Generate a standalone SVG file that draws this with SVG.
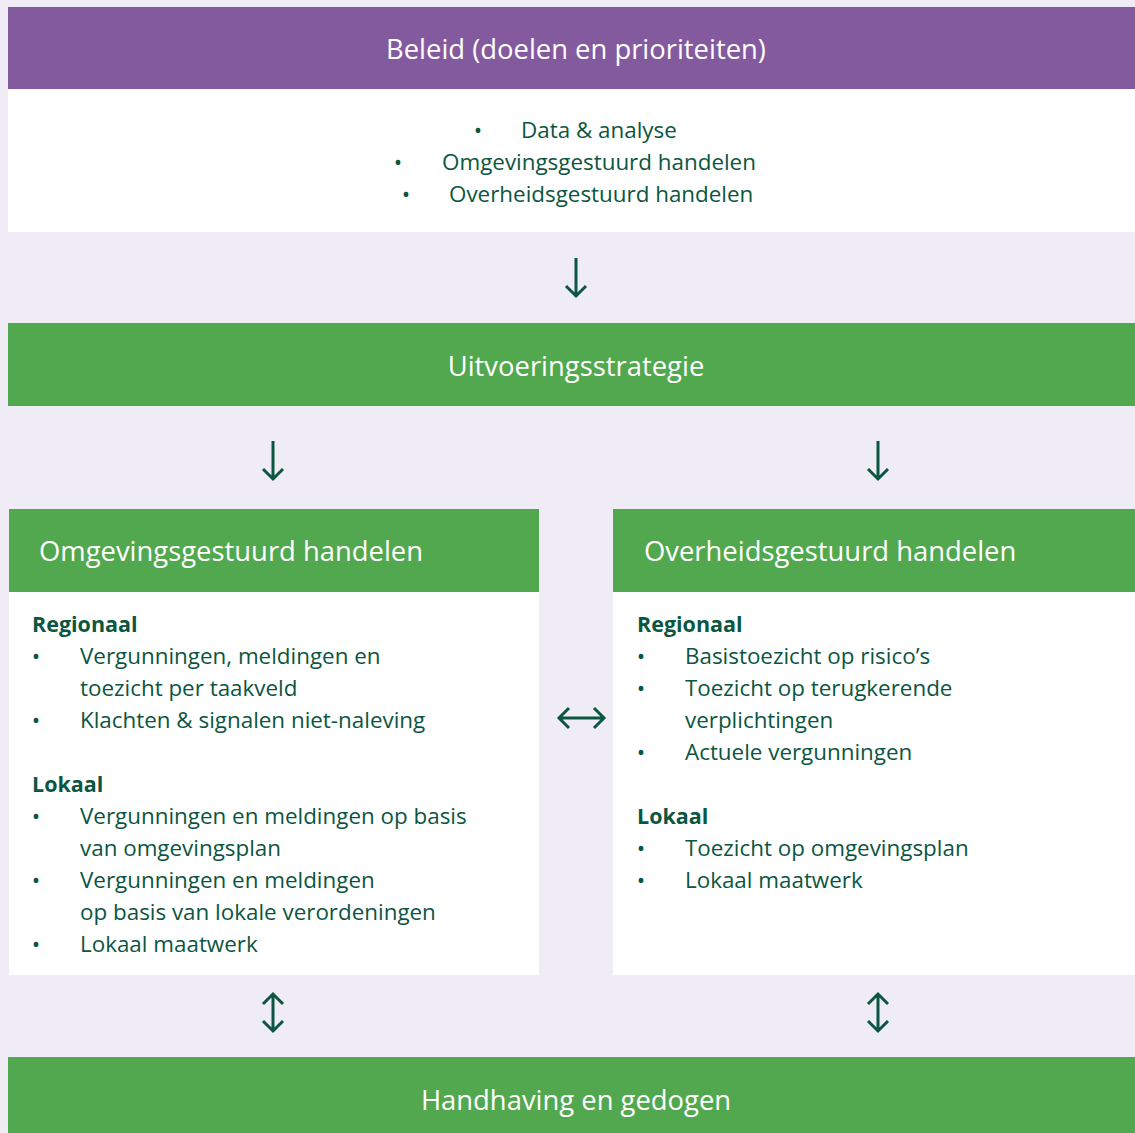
<svg xmlns="http://www.w3.org/2000/svg" width="1135" height="1133" viewBox="0 0 1135 1133">
<style>
.bg{fill:#EFECF6}
.purple{fill:#845A9E}
.green{fill:#52A84E}
.white{fill:#FFFFFF}
.title{font-family:"Open Sans","Liberation Sans",sans-serif;font-size:27.4px;fill:#FFFFFF}
.body{font-family:"Open Sans","Liberation Sans",sans-serif;font-size:22.4px;fill:#0B5641}
.bold{font-family:"Open Sans","Liberation Sans",sans-serif;font-size:21.5px;font-weight:bold;fill:#0B5641}
.arrow{fill:none;stroke:#0B5641;stroke-width:3;stroke-linecap:butt}
</style>
<rect class="bg" x="0" y="0" width="1135" height="1133"/>
<g id="beleid">
<rect class="purple" x="8" y="7" width="1127" height="82"/>
<rect class="white" x="8" y="89" width="1127" height="143"/>
<text class="title" x="576" y="59" text-anchor="middle">Beleid (doelen en prioriteiten)</text>
<text class="body" x="478" y="138" text-anchor="middle">•</text>
<text class="body" x="521" y="138">Data &amp; analyse</text>
<text class="body" x="398" y="170" text-anchor="middle">•</text>
<text class="body" x="442" y="170">Omgevingsgestuurd handelen</text>
<text class="body" x="406" y="202" text-anchor="middle">•</text>
<text class="body" x="449" y="202">Overheidsgestuurd handelen</text>
</g>
<g id="uitvoeringsstrategie">
<rect class="green" x="8" y="323" width="1127" height="83"/>
<text class="title" x="576" y="376" text-anchor="middle">Uitvoeringsstrategie</text>
</g>
<g id="omgevingsgestuurd">
<rect class="green" x="9" y="509" width="530" height="83"/>
<rect class="white" x="9" y="592" width="530" height="383"/>
<text class="title" x="39" y="561">Omgevingsgestuurd handelen</text>
<text class="bold" x="32" y="632">Regionaal</text>
<text class="body" x="36" y="664" text-anchor="middle">•</text>
<text class="body" x="80" y="664">Vergunningen, meldingen en</text>
<text class="body" x="80" y="696">toezicht per taakveld</text>
<text class="body" x="36" y="728" text-anchor="middle">•</text>
<text class="body" x="80" y="728">Klachten &amp; signalen niet-naleving</text>
<text class="bold" x="32" y="792">Lokaal</text>
<text class="body" x="36" y="824" text-anchor="middle">•</text>
<text class="body" x="80" y="824">Vergunningen en meldingen op basis</text>
<text class="body" x="80" y="856">van omgevingsplan</text>
<text class="body" x="36" y="888" text-anchor="middle">•</text>
<text class="body" x="80" y="888">Vergunningen en meldingen</text>
<text class="body" x="80" y="920">op basis van lokale verordeningen</text>
<text class="body" x="36" y="952" text-anchor="middle">•</text>
<text class="body" x="80" y="952">Lokaal maatwerk</text>
</g>
<g id="overheidsgestuurd">
<rect class="green" x="613" y="509" width="522" height="83"/>
<rect class="white" x="613" y="592" width="522" height="383"/>
<text class="title" x="644" y="561">Overheidsgestuurd handelen</text>
<text class="bold" x="637" y="632">Regionaal</text>
<text class="body" x="641" y="664" text-anchor="middle">•</text>
<text class="body" x="685" y="664">Basistoezicht op risico’s</text>
<text class="body" x="641" y="696" text-anchor="middle">•</text>
<text class="body" x="685" y="696">Toezicht op terugkerende</text>
<text class="body" x="685" y="728">verplichtingen</text>
<text class="body" x="641" y="760" text-anchor="middle">•</text>
<text class="body" x="685" y="760">Actuele vergunningen</text>
<text class="bold" x="637" y="824">Lokaal</text>
<text class="body" x="641" y="856" text-anchor="middle">•</text>
<text class="body" x="685" y="856">Toezicht op omgevingsplan</text>
<text class="body" x="641" y="888" text-anchor="middle">•</text>
<text class="body" x="685" y="888">Lokaal maatwerk</text>
</g>
<g id="handhaving">
<rect class="green" x="8" y="1057" width="1127" height="76"/>
<text class="title" x="576" y="1110" text-anchor="middle">Handhaving en gedogen</text>
</g>
<g id="connectors">
<path class="arrow" d="M576 258V296M566 286L576 296L586 286"/>
<path class="arrow" d="M273 441V479M263 469L273 479L283 469"/>
<path class="arrow" d="M878 441V479M868 469L878 479L888 469"/>
<path class="arrow" d="M559 718H604M569 708L559 718L569 728M594 708L604 718L594 728"/>
<path class="arrow" d="M273 994V1031M263 1004L273 994L283 1004M263 1021L273 1031L283 1021"/>
<path class="arrow" d="M878 994V1031M868 1004L878 994L888 1004M868 1021L878 1031L888 1021"/>
</g>
</svg>
